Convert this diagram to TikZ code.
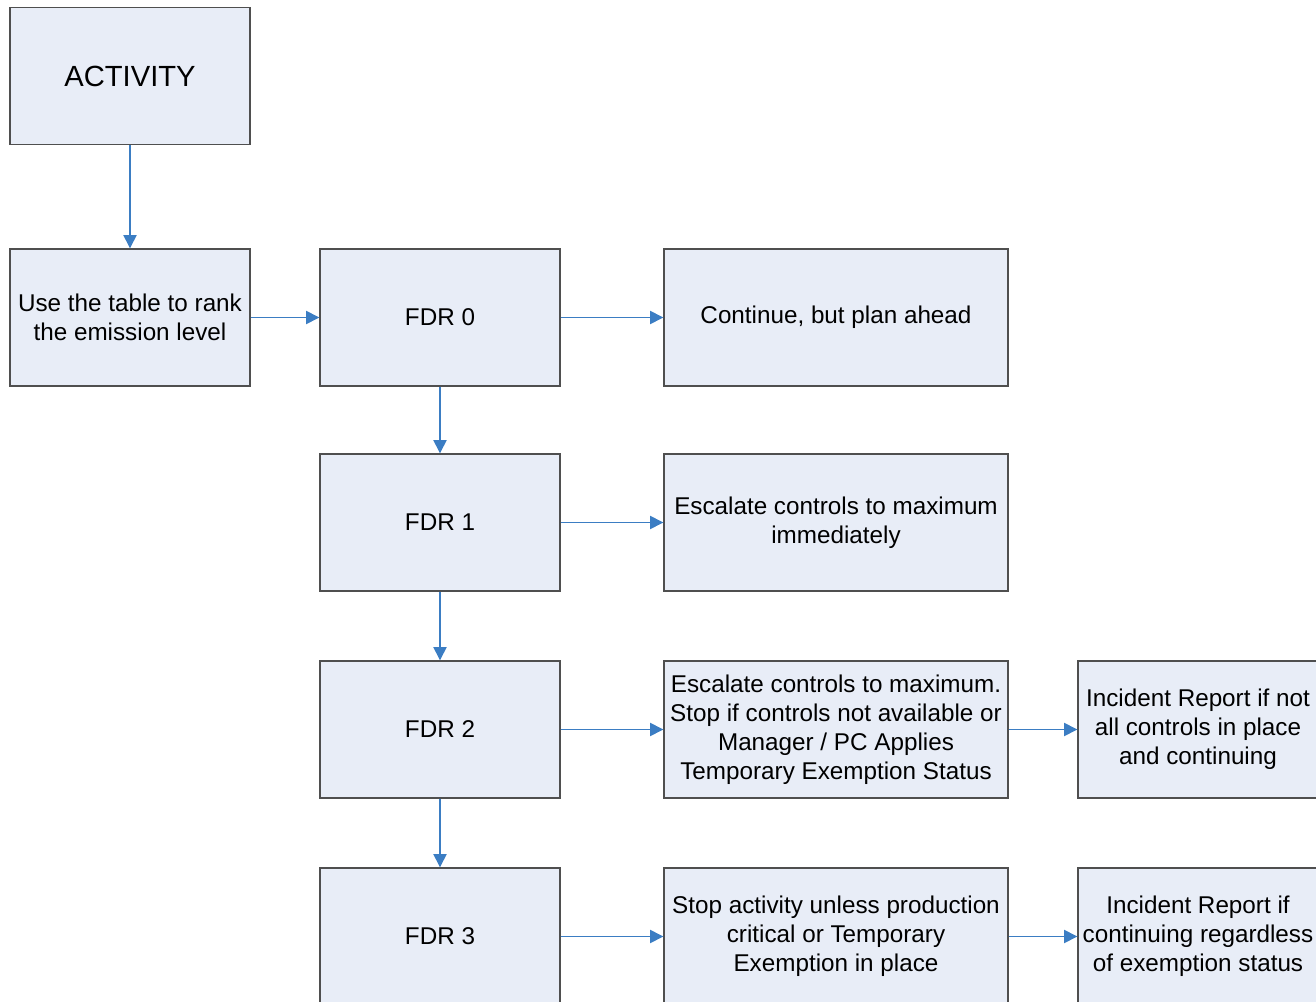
\documentclass[tikz,border=0pt]{standalone}
\usepackage{fontspec}
\setmainfont{Liberation Sans}
\usetikzlibrary{arrows.meta}

\definecolor{boxfill}{HTML}{E8EDF7}
\definecolor{boxline}{HTML}{4F4F4F}
\definecolor{flow}{HTML}{3B7DC3}

\tikzset{
  stepbox/.style={draw=boxline,fill=boxfill,line width=0.8pt,align=center,
    minimum width=4.8cm,minimum height=2.74cm,inner sep=1pt,
    font=\fontsize{13.8}{16.5}\selectfont},
  widebox/.style={stepbox,minimum width=6.88cm},
  flowline/.style={->,draw=flow,line width=0.8pt}
}

\begin{document}
\begin{tikzpicture}[>={Triangle[length=7.5pt,width=7.5pt]}]
	\useasboundingbox (0,0) rectangle (26.32,-20.04);
	\clip (0,0) rectangle (26.32,-20.04);
				% left column
				\node[stepbox,font=\fontsize{16.6}{19}\selectfont] (act) at (2.6,-1.52) {ACTIVITY};
				\node[stepbox] (rank) at (2.6,-6.35) {Use the table to rank\\the emission level};
				
				% FDR levels
				\node[stepbox] (fdr0) at (8.8,-6.35) {FDR 0};
				\node[stepbox] (fdr1) at (8.8,-10.45) {FDR 1};
				\node[stepbox] (fdr2) at (8.8,-14.59) {FDR 2};
				\node[stepbox] (fdr3) at (8.8,-18.73) {FDR 3};
				
				% actions
				\node[widebox] (plan) at (16.72,-6.35) {Continue, but plan ahead};
				\node[widebox] (esc) at (16.72,-10.45) {Escalate controls to maximum\\immediately};
				\node[widebox] (escstop) at (16.72,-14.59) {Escalate controls to maximum.\\Stop if controls not available or\\Manager / PC Applies\\Temporary Exemption Status};
				\node[widebox] (stop) at (16.72,-18.73) {Stop activity unless production\\critical or Temporary\\Exemption in place};
				
				% incident reports
				\node[stepbox] (rep2) at (23.96,-14.59) {Incident Report if not\\all controls in place\\and continuing};
				\node[stepbox] (rep3) at (23.96,-18.73) {Incident Report if\\continuing regardless\\of exemption status};
				
				\draw[flowline] (act) -- (rank);
				\draw[flowline] (rank) -- (fdr0);
				\foreach \a/\b in {fdr0/fdr1,fdr1/fdr2,fdr2/fdr3,fdr0/plan,fdr1/esc,fdr2/escstop,fdr3/stop,escstop/rep2,stop/rep3}
					\draw[flowline] (\a) -- (\b);
	\end{tikzpicture}
\end{document}
